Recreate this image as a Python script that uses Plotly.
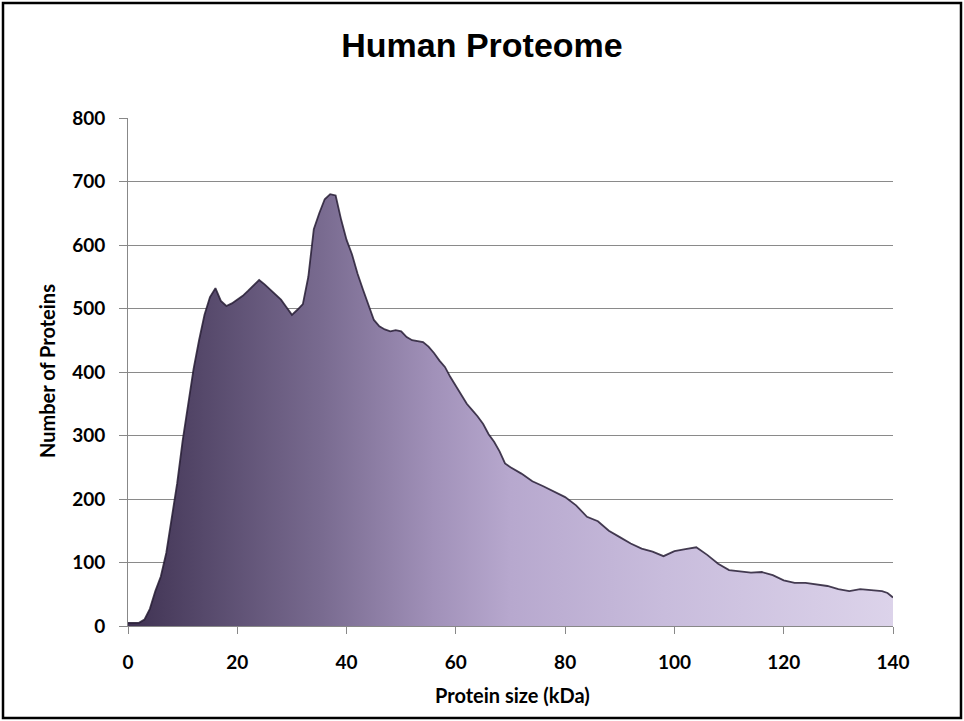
import plotly.graph_objects as go

size_kda = [0, 1, 2, 3, 4, 5, 6, 7, 8, 9, 10, 11, 12, 13, 14, 15, 16, 17, 18, 19,
            20, 21, 22, 23, 24, 25, 26, 27, 28, 29, 30, 31, 32, 33, 34, 35, 36, 37, 38, 39,
            40, 41, 42, 43, 44, 45, 46, 47, 48, 49, 50, 51, 52, 53, 54, 55, 56, 57, 58, 59,
            60, 61, 62, 63, 64, 65, 66, 67, 68, 69, 70, 72, 74, 76, 78, 80, 82, 84, 86, 88,
            90, 92, 94, 96, 98, 100, 102, 104, 106, 108, 110, 112, 114, 116, 118, 120, 122,
            124, 126, 128, 130, 132, 134, 136, 138, 139, 140]
n_proteins = [5, 5, 5, 10, 27, 55, 78, 115, 168, 225, 292, 350, 405, 450, 490, 518, 532, 512, 504, 508,
              514, 520, 528, 536, 545, 538, 530, 522, 514, 502, 490, 498, 507, 550, 625, 650, 672, 680, 678, 640,
              608, 585, 555, 530, 505, 482, 472, 467, 464, 466, 464, 455, 450, 449, 447, 440, 430, 418, 408, 392,
              378, 365, 350, 340, 330, 318, 302, 290, 275, 256, 250, 240, 228, 220, 212, 203, 190, 172, 165, 150,
              140, 130, 122, 117, 110, 118, 121, 124, 112, 98, 88, 86, 84, 85, 80, 72, 68,
              68, 66, 63, 58, 55, 58, 57, 55, 52, 45]

x_ticks = [0, 20, 40, 60, 80, 100, 120, 140]
y_ticks = [0, 100, 200, 300, 400, 500, 600, 700, 800]

fig = go.Figure()
fig.add_trace(go.Scatter(
    x=size_kda, y=n_proteins, mode="lines", fill="tozeroy",
    line=dict(color="rgba(38,28,52,0.85)", width=1.8),
    fillgradient=dict(type="horizontal", colorscale=[
        [0.0, "#3f3252"], [0.1, "#56496b"], [0.25, "#786a8f"], [0.4, "#a191b9"],
        [0.5, "#b7a8ce"], [0.7, "#c8bcdc"], [1.0, "#dcd3ea"]]),
    hoverinfo="x+y", showlegend=False,
))

tickfont = dict(family="Lato", size=19, color="black", weight="bold")
titlefont = dict(family="Lato", size=20, color="black", weight="bold")
fig.update_layout(
    width=964, height=721,
    margin=dict(l=128, r=71, t=118, b=95),
    paper_bgcolor="white", plot_bgcolor="white",
    title=dict(text="<b>Human Proteome</b>", x=0.5, xanchor="center", xref="container",
               y=1 - 45 / 721, yanchor="middle",
               font=dict(family="Liberation Sans", size=34, color="black")),
    xaxis=dict(range=[0, 140], tickvals=x_ticks, ticks="outside", ticklen=7, tickcolor="#888",
               showline=True, linecolor="#888", linewidth=1, showgrid=False, zeroline=False,
               tickfont=tickfont, ticklabelstandoff=12),
    yaxis=dict(range=[0, 800], tickvals=y_ticks, ticks="outside", ticklen=8, tickcolor="#888",
               showline=True, linecolor="#888", linewidth=1, showgrid=True, gridcolor="#8a8a8a",
               gridwidth=1, zeroline=False, tickfont=tickfont, ticklabelstandoff=10),
    annotations=[
        dict(text="Protein size (kDa)", xref="paper", yref="paper",
             x=(512 - 128) / 765, y=(626 - 695) / 508, xanchor="center", yanchor="middle",
             showarrow=False, font=titlefont),
        dict(text="Number of Proteins", xref="paper", yref="paper",
             x=(47 - 128) / 765, y=(626 - 371) / 508, xanchor="center", yanchor="middle",
             textangle=-90, showarrow=False, font=titlefont),
    ],
    shapes=[dict(type="rect", xref="paper", yref="paper",
                 x0=(3 - 128) / 765, x1=(961 - 128) / 765,
                 y0=(626 - 718) / 508, y1=(626 - 3) / 508,
                 line=dict(color="black", width=2.5), layer="above")],
)

fig.write_html("out.html")
